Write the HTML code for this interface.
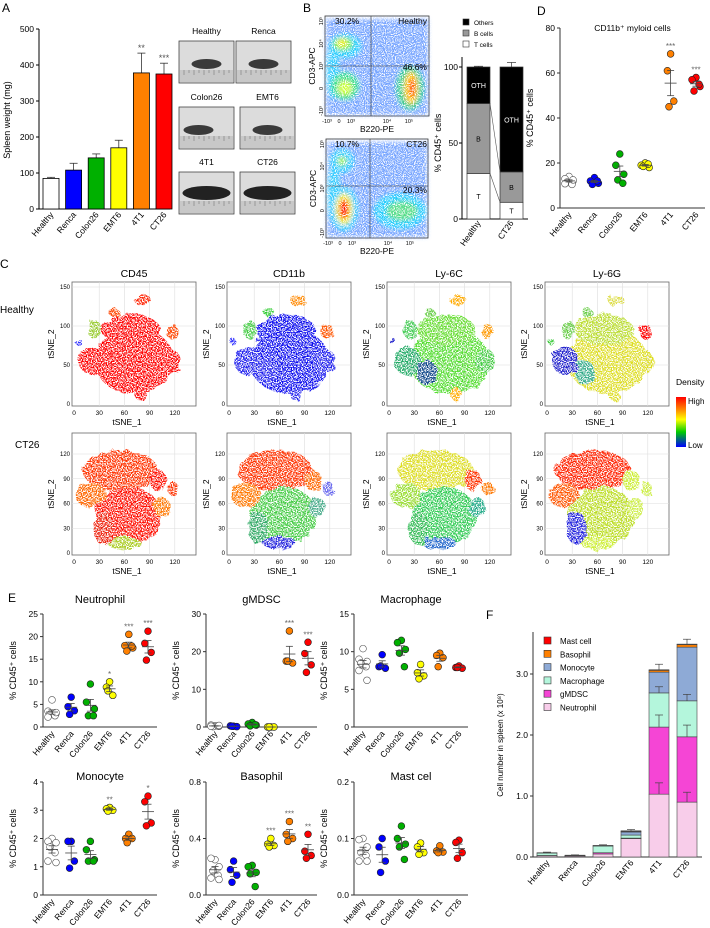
<!DOCTYPE html>
<html><head><meta charset="utf-8"><style>
html,body{margin:0;padding:0;background:#fff}
svg{display:block;font-family:"Liberation Sans",Arial,sans-serif}
</style></head><body>
<svg id="fig" width="710" height="928" viewBox="0 0 710 928" xmlns="http://www.w3.org/2000/svg">
<defs>
<filter id="rough" x="-20%" y="-20%" width="140%" height="140%"><feTurbulence type="fractalNoise" baseFrequency="0.12" numOctaves="2" seed="3" result="t"/><feDisplacementMap in="SourceGraphic" in2="t" scale="7" result="d"/><feTurbulence type="fractalNoise" baseFrequency="0.8" numOctaves="1" seed="7" result="n"/><feColorMatrix in="n" type="matrix" values="0 0 0 0 0  0 0 0 0 0  0 0 0 0 0  7 0 0 0 -2.9" result="m"/><feComposite in="d" in2="m" operator="in"/></filter>
<filter id="soft" x="-10%" y="-10%" width="120%" height="120%"><feGaussianBlur stdDeviation="2" result="b"/><feTurbulence type="fractalNoise" baseFrequency="0.9" numOctaves="1" seed="5" result="n"/><feColorMatrix in="n" type="matrix" values="0 0 0 0 0  0 0 0 0 0  0 0 0 0 0  6 0 0 0 -2.2" result="m"/><feComposite in="b" in2="m" operator="in"/></filter>
<linearGradient id="dens" x1="0" y1="0" x2="0" y2="1"><stop offset="0" stop-color="#f00"/><stop offset="0.25" stop-color="#f80"/><stop offset="0.45" stop-color="#ff0"/><stop offset="0.7" stop-color="#0c0"/><stop offset="1" stop-color="#00f"/></linearGradient>
</defs>
</svg>
<script>
const groups=['Healthy','Renca','Colon26','EMT6','4T1','CT26'];
const groupColors=['#ffffff','#0000ff','#00b000','#ffff00','#ff8000','#ff0000'];
// Panel A
const spleenMean=[85,108,142,170,378,375];
const spleenErr=[3,19,11,21,55,30];
const spleenStars=['','','','','**','***'];
const spleenTicks=[0,100,200,300,400,500];
// Panel B
const bHealthy=[30,46,24];
const bCT26=[11,20,69];
const bErrTop=[100.5,103];
// Panel D
const cd11b=[[14,13,12,11.5,10.5,10.8,12.5],[13.5,12,11,10.5,12],[24,19,15,12.5,11],[20,19,18,18.5,19.5],[68.5,61,47.5,45],[58,57,54,52,55]];
const cd11bStars=['','','','','***','***'];
// Panel E
const neutro=[[6,3.5,3,2.8,2.5,2.2,3.2],[6.6,4.5,3.6,2.8],[9.5,5.5,4,2.5,2.5],[10,8.8,7,8],[20.5,18,17.5,16.8,17.9],[21.2,18.5,16.5,14.8]];
const gmdsc=[[0.3,0.5,0.2,0.1,0.3,0.2,0.4],[0.2,0.3,0.1,0.2],[1.2,0.8,0.5,0.3,0.6],[0,0,0,0],[25.5,17.5,17,17.5],[22.5,19.5,16.5,14.5]];
const macro=[[10.4,9,8.7,8.5,8,7.5,6.2],[9.6,8,7.8,8.1],[11.5,11.2,10.3,9.8,8],[8.3,7.2,6.8,6.4],[9.8,9.5,9.2,8],[8.1,7.9,7.8,7.9]];
const mono=[[2,1.9,1.85,1.7,1.5,1.2,1.15],[1.9,1.9,1.2,0.95],[1.9,1.6,1.25,1.2,1.2],[3.1,3.05,3,2.97],[2.15,2,2,1.85],[3.5,3.3,2.55,2.45]];
const baso=[[0.25,0.26,0.2,0.17,0.14,0.12,0.11],[0.24,0.18,0.14,0.09],[0.21,0.2,0.16,0.15,0.06],[0.4,0.36,0.35,0.34],[0.52,0.43,0.4,0.38],[0.43,0.31,0.28,0.26]];
const mast=[[0.1,0.098,0.085,0.075,0.07,0.06,0.06],[0.1,0.085,0.06,0.04],[0.122,0.1,0.09,0.085,0.063],[0.092,0.085,0.075,0.072],[0.087,0.078,0.076,0.075],[0.097,0.093,0.075,0.065]];
const neutroStars=['','','','*','***','***'];
const gmdscStars=['','','','','***','***'];
const monoStars=['','','','**','','*'];
const basoStars=['','','','***','***','**'];
const noStars=['','','','','',''];
// Panel F (stack order: Neutrophil, gMDSC, Macrophage, Monocyte, Basophil, Mast cell)
const fLayers=['Neutrophil','gMDSC','Macrophage','Monocyte','Basophil','Mast cell'];
const fColors=['#f8cdea','#f545d5','#b4f6dc','#8eaad6','#ff8000','#ff0000'];
const fNeutro=[0.02,0.015,0.05,0.30,1.03,0.90];
const fGmdsc=[0.005,0.005,0.02,0.01,1.10,1.07];
const fMacro=[0.04,0.005,0.11,0.05,0.56,0.59];
const fMono=[0.005,0.005,0.01,0.05,0.34,0.88];
const fBaso=[0,0,0,0.01,0.03,0.04];
const fMast=[0,0,0,0.01,0.01,0.01];
const fErr=[0.01,0.005,0.01,0.02,0.09,0.08];
const fTicks=[0,1,2,3];
const fTickLabels=['0.0','1.0','2.0','3.0'];

const NS='http://www.w3.org/2000/svg';
const svg=document.getElementById('fig');
function mk(tag,attrs,name,parent){
  const el=document.createElementNS(NS,tag);
  for(const k in attrs) el.setAttribute(k,attrs[k]);
  
  
  (parent||svg).appendChild(el);return el;}
function tx(x,y,s,size,name,o){o=o||{};
  const a={x:x,y:y,'font-size':size,fill:o.fill||'#000','text-anchor':o.anchor||'start'};
  if(o.weight)a['font-weight']=o.weight;
  if(o.rot!==undefined)a.transform='rotate('+o.rot+' '+x+' '+y+')';
  const t=mk('text',a,name);t.textContent=s;return t;}
function ln(x1,y1,x2,y2,name,c,w){return mk('line',{x1:x1,y1:y1,x2:x2,y2:y2,stroke:c||'#000','stroke-width':w||1},name);}
function catLabels(xs,y,size,name){groups.forEach((g,i)=>tx(xs[i]+3,y,g,size,name+'-'+g.toLowerCase(),{anchor:'end',rot:-50}));}
function mean(a){return a.reduce((s,v)=>s+v,0)/a.length;}
function sem(a){const m=mean(a);return Math.sqrt(a.reduce((s,v)=>s+(v-m)*(v-m),0)/(a.length-1))/Math.sqrt(a.length);}

// panel letters
[['A',2,12],['B',303,12],['D',537,15],['C',0,268],['E',8,602],['F',486,619]].forEach(p=>tx(p[1],p[2],p[0],12,'panel-label-'+p[0].toLowerCase()));

// ===== Panel A =====
(function(){
  const ax=39,y0=209,ymax=500,h=180;const y=v=>y0-v/ymax*h;
  const xs=groups.map((g,i)=>51+i*22.6);
  ln(ax,y(500),ax,y0,'a-y-axis');ln(ax,y0,170,y0,'a-x-axis');
  spleenTicks.forEach(t=>{ln(ax-3,y(t),ax,y(t),'a-y-tick');tx(ax-5,y(t)+3,String(t),8.5,'a-y-tick-label',{anchor:'end'});});
  tx(10,120,'Spleen weight (mg)',9,'a-y-axis-title',{anchor:'middle',rot:-90});
  spleenMean.forEach((v,i)=>{
    const top=y(v+spleenErr[i]);
    ln(xs[i],top,xs[i],y(v),'a-error-bar',"#333",0.8);ln(xs[i]-4,top,xs[i]+4,top,'a-error-cap','#333',0.8);
    mk('rect',{x:xs[i]-8,y:y(v),width:16,height:y0-y(v),fill:groupColors[i],stroke:'#000','stroke-width':0.8},'a-bar-'+groups[i].toLowerCase());
    if(spleenStars[i])tx(xs[i],top-2,spleenStars[i],9,'a-significance',{anchor:'middle',fill:'#555'});
  });
  catLabels(xs,215,8.5,'a-x-label');
  const cells=[['Healthy',179,41],['Renca',236,41],['Colon26',179,107],['EMT6',240,107],['4T1',179,172],['CT26',240,172]];
  cells.forEach((c,i)=>{
    const w=55,hh=42;
    tx(c[1]+w/2,c[2]-7,c[0],8.5,'photo-title-'+c[0].toLowerCase(),{anchor:'middle'});
    mk('rect',{x:c[1],y:c[2],width:w,height:hh,fill:'#dcdcdc',stroke:'#444','stroke-width':0.8},'spleen-photo-'+c[0].toLowerCase());
    mk('rect',{x:c[1]+1,y:c[2]+hh-13,width:w-2,height:12,fill:'#c8c8c8'},'photo-ruler');
    for(let k=0;k<10;k++)ln(c[1]+5+k*5,c[2]+hh-13,c[1]+5+k*5,c[2]+hh-(k%2?10:8),'ruler-tick','#666',0.5);
    const big=i>=4?1:0;
    mk('ellipse',{cx:c[1]+w/2+(i==2?-8:0),cy:c[2]+hh-19-big*2,rx:big?24:15,ry:big?7:5,fill:big?'#222':'#3a3a3a'},'spleen-image');
  });
})();

// ===== Panel B flow =====
function flow(x0,y0,w,h,vx,hy,blobs,labels,nm){
  mk('rect',{x:x0,y:y0,width:w,height:h,fill:'#fff',stroke:'#333','stroke-width':0.8},nm+'-frame');
  const g=mk('g',{filter:'url(#soft)'},nm+'-density');
  mk('rect',{x:x0+1,y:y0+3,width:w-2,height:h-4,fill:'#3a7dff',opacity:0.7},nm+'-bg',g);
  blobs.forEach(b=>mk('ellipse',{cx:x0+b[0],cy:y0+b[1],rx:b[2],ry:b[3],fill:b[4]},nm+'-population',g));
  ln(vx,y0,vx,y0+h,nm+'-quad-v','#333',0.6);ln(x0,hy,x0+w,hy,nm+'-quad-h','#333',0.6);
  labels.forEach(l=>tx(l[0],l[1],l[2],8.5,nm+'-gate-label',{anchor:l[3]||'start'}));
  const yl=['10⁵','10⁴','10³','0','-10³'];yl.forEach((s,i)=>tx(x0-2,y0+5+i*(h-10)/4,s,5.5,nm+'-y-tick',{anchor:'middle',rot:-90}));
  const xl=[['-10³',2],['0',14],['10³',26],['10⁴',62],['10⁵',84]];xl.forEach(s=>tx(x0+s[1],y0+h+7,s[0],5.5,nm+'-x-tick',{anchor:'middle'}));
  tx(x0-10,y0+h/2,'CD3-APC',8.5,nm+'-y-title',{anchor:'middle',rot:-90});
  tx(x0+w/2,y0+h+16,'B220-PE',8.5,nm+'-x-title',{anchor:'middle'});
}
flow(325,16,104,100,371,66,[[8,55,6,28,'#3cf'],[20,30,16,12,'#2cf'],[18,28,10,7,'#7e4'],[17,27,5,4,'#ee3'],[20,70,14,14,'#3d8'],[20,72,7,7,'#cf3'],[85,72,14,22,'#3c8'],[86,72,7,16,'#fc0'],[87,72,3,10,'#f00']],[[335,24,'30.2%'],[427,24,'Healthy','end'],[427,70,'46.6%','end']],'flow-healthy');
flow(326,139,102,99,370,186,[[8,55,6,30,'#3cf'],[16,22,12,12,'#3cf'],[16,22,5,5,'#9e6'],[18,70,14,22,'#2cf'],[18,70,9,16,'#ee3'],[18,70,5,10,'#f00'],[74,72,26,18,'#2cf'],[76,72,16,10,'#5d8']],[[335,147,'10.7%'],[427,147,'CT26','end'],[427,193,'20.3%','end']],'flow-ct26');

// ===== Panel B stacked =====
(function(){
  const ax=462,y0=219,h=152;const y=v=>y0-v/100*h;
  ln(ax,y(100)-10,ax,y0,'b-y-axis');ln(ax,y0,528,y0,'b-x-axis');
  [0,50,100].forEach(t=>{ln(ax-3,y(t),ax,y(t),'b-y-tick');tx(ax-4,y(t)+3,String(t),8.5,'b-y-tick-label',{anchor:'end'});});
  tx(441,143,'% CD45⁺ cells',9,'b-y-axis-title',{anchor:'middle',rot:-90});
  const cols=['#fff','#999','#000'],lab=['T','B','OTH'],txc=['#000','#000','#fff'];
  [[bHealthy,467,'healthy'],[bCT26,500,'ct26']].forEach((b,bi)=>{
    let cum=0;b[0].forEach((v,k)=>{
      mk('rect',{x:b[1],y:y(cum+v),width:23,height:y(cum)-y(cum+v),fill:cols[k],stroke:'#333','stroke-width':0.7},'b-bar-'+b[2]+'-'+lab[k].toLowerCase());
      tx(b[1]+11.5,(y(cum)+y(cum+v))/2+3,lab[k],7,'b-seg-label',{anchor:'middle',fill:txc[k]});
      cum+=v;});
    ln(b[1]+11.5,y(bErrTop[bi]),b[1]+11.5,y(100),'b-error','#333',0.7);ln(b[1]+7,y(bErrTop[bi]),b[1]+16,y(bErrTop[bi]),'b-error-cap','#333',0.7);
    tx(b[1]+14,223,['Healthy','CT26'][bi],8.5,'b-x-label',{anchor:'end',rot:-55});
  });
  ln(490,y(bHealthy[0]+bHealthy[1]),500,y(bCT26[0]+bCT26[1]),'b-connector','#555',0.6);
  ln(490,y(bHealthy[0]),500,y(bCT26[0]),'b-connector','#555',0.6);
  [['Others','#000'],['B cells','#999'],['T cells','#fff']].forEach((l,i)=>{mk('rect',{x:463,y:19+i*11,width:6,height:6,fill:l[1],stroke:'#333','stroke-width':0.6},'b-legend-swatch');tx(474,25+i*11,l[0],6.5,'b-legend-label');});
})();

// ===== Dot plot helper =====
function dotPlot(c){
  const y=v=>c.y0-v/c.max*(c.y0-c.top);
  const xs=groups.map((g,i)=>c.ax+9+i*(c.end-c.ax-18)/5);
  ln(c.ax,c.top,c.ax,c.y0,c.nm+'-y-axis','#333');ln(c.ax,c.y0,c.end,c.y0,c.nm+'-x-axis','#333');
  c.ticks.forEach((t,i)=>{ln(c.ax-3,y(t),c.ax,y(t),c.nm+'-y-tick','#333');tx(c.ax-5,y(t)+3,c.tl[i],8.5,c.nm+'-y-tick-label',{anchor:'end'});});
  tx(c.ax-27,(c.top+c.y0)/2,'% CD45⁺ cells',9,c.nm+'-y-axis-title',{anchor:'middle',rot:-90});
  if(c.title)tx((c.ax+c.end)/2,c.ty,c.title,c.tsize||11,c.nm+'-title',{anchor:'middle'});
  const off=[0,-4,4,-2,3,-4,4];
  c.data.forEach((arr,i)=>{
    const m=mean(arr),s=sem(arr);
    arr.forEach((v,k)=>mk('circle',{cx:xs[i]+off[k%7]*(arr.length>4?1:0.8),cy:y(v),r:3.4,fill:groupColors[i],stroke:i==0?'#555':'#222','stroke-width':0.6},c.nm+'-point-'+groups[i].toLowerCase()));
    ln(xs[i]-6,y(m),xs[i]+6,y(m),c.nm+'-mean','#444',0.8);
    ln(xs[i],y(m+s),xs[i],y(m-s),c.nm+'-sem','#444',0.8);
    ln(xs[i]-3.5,y(m+s),xs[i]+3.5,y(m+s),c.nm+'-sem-cap','#444',0.8);ln(xs[i]-3.5,y(m-s),xs[i]+3.5,y(m-s),c.nm+'-sem-cap','#444',0.8);
    if(c.stars[i])tx(xs[i],y(Math.max(...arr))-5,c.stars[i],8,c.nm+'-significance',{anchor:'middle',fill:'#666'});
  });
  catLabels(xs,c.y0+7,8.5,c.nm+'-x-label');
}
dotPlot({nm:'d',ax:560,end:705,top:28,y0:208,max:80,ticks:[0,20,40,60,80],tl:['0','20','40','60','80'],data:cd11b,stars:cd11bStars,title:'CD11b⁺ myloid cells',ty:31,tsize:8.5});
dotPlot({nm:'e-neutrophil',ax:43,end:157,top:614,y0:727,max:25,ticks:[0,5,10,15,20,25],tl:['0','5','10','15','20','25'],data:neutro,stars:neutroStars,title:'Neutrophil',ty:603});
dotPlot({nm:'e-gmdsc',ax:206,end:317,top:614,y0:727,max:30,ticks:[0,10,20,30],tl:['0','10','20','30'],data:gmdsc,stars:gmdscStars,title:'gMDSC',ty:603});
dotPlot({nm:'e-macrophage',ax:354,end:468,top:614,y0:727,max:15,ticks:[0,5,10,15],tl:['0','5','10','15'],data:macro,stars:noStars,title:'Macrophage',ty:603});
dotPlot({nm:'e-monocyte',ax:43,end:157,top:782,y0:895,max:4,ticks:[0,1,2,3,4],tl:['0','1','2','3','4'],data:mono,stars:monoStars,title:'Monocyte',ty:780});
dotPlot({nm:'e-basophil',ax:206,end:317,top:782,y0:895,max:0.8,ticks:[0,0.4,0.8],tl:['0.0','0.4','0.8'],data:baso,stars:basoStars,title:'Basophil',ty:780});
dotPlot({nm:'e-mast',ax:354,end:468,top:782,y0:895,max:0.2,ticks:[0,0.1,0.2],tl:['0.0','0.1','0.2'],data:mast,stars:noStars,title:'Mast cel',ty:780});

// ===== Panel F =====
(function(){
  const ax=533,y0=857,unit=61;const y=v=>y0-v*unit;
  ln(ax,632,ax,y0,'f-y-axis','#333');ln(ax,y0,702,y0,'f-x-axis','#333');
  fTicks.forEach((t,i)=>{ln(ax-3,y(t),ax,y(t),'f-y-tick','#333');tx(ax-5,y(t)+3,fTickLabels[i],8.5,'f-y-tick-label',{anchor:'end'});});
  tx(503,745,'Cell number in spleen (x 10⁸)',8,'f-y-axis-title',{anchor:'middle',rot:-90});
  const layers=[fNeutro,fGmdsc,fMacro,fMono,fBaso,fMast];
  const xs=groups.map((g,i)=>547+i*28);
  groups.forEach((g,i)=>{
    let cum=0;
    layers.forEach((L,k)=>{const v=L[i];if(v<=0)return;
      mk('rect',{x:xs[i]-10,y:y(cum+v),width:20,height:v*unit,fill:fColors[k],stroke:'#444','stroke-width':0.6},'f-bar-'+g.toLowerCase()+'-'+fLayers[k].toLowerCase().replace(' ','-'));
      cum+=v;});
    const et=y(cum+fErr[i]);ln(xs[i],et,xs[i],y(cum),'f-error','#444',0.7);ln(xs[i]-4,et,xs[i]+4,et,'f-error-cap','#444',0.7);
    if(i>=4){let c2=0;[0,1,2].forEach(k=>{c2+=layers[k][i];const e=y(c2+layers[k][i]*0.18);ln(xs[i],e,xs[i],y(c2),'f-layer-error','#444',0.7);ln(xs[i]-4,e,xs[i]+4,e,'f-layer-error-cap','#444',0.7);});}
  });
  catLabels(xs,863,8.5,'f-x-label');
  fLayers.slice().reverse().forEach((l,i)=>{mk('rect',{x:544,y:637+i*13.3,width:7,height:7,fill:fColors[5-i],stroke:'#333','stroke-width':0.6},'f-legend-swatch');tx(560,644+i*13.3,l,8,'f-legend-label');});
})();

// ===== Panel C tSNE =====
const hBlobs=[[72,55,48,42],[68,95,35,20],[82,133,10,7],[48,117,6,6],[25,95,8,12],[117,93,7,10],[5,80,4,4],[115,55,12,15],[80,12,7,8],[22,55,16,18],[45,40,12,16]];
const cBlobs=[[55,100,45,25],[65,45,40,35],[20,70,18,15],[100,88,10,13],[118,78,7,8],[60,12,20,8],[105,55,10,12],[35,30,12,20]];
const hCols=[
 ['#f00','#f00','#f20','#f40','#9c3','#f40','#33f','#f00','#f00','#f00','#f00'],
 ['#11e','#11e','#f80','#3c3','#4c4','#f50','#33f','#22e','#22e','#22e','#22e'],
 ['#5d3','#6d3','#fa0','#6c4','#4c5','#f90','#22c','#4c4','#fa0','#2a6','#148'],
 ['#dd2','#bd3','#dd4','#6c4','#6c4','#f00','#4c4','#dd2','#dd2','#22c','#3a8']];
const cCols=[
 ['#f30','#f10','#f60','#f10','#f30','#ac2','#f70','#e21'],
 ['#f30','#4c4','#f70','#f60','#66e','#22d','#4a8','#3a6'],
 ['#dd2','#3c5','#9d3','#f30','#f70','#26c','#2a8','#3b5'],
 ['#f20','#bd2','#f50','#ce3','#ce4','#ce3','#ce4','#22d']];
const markers=['CD45','CD11b','Ly-6C','Ly-6G'];
const boxX=[72,227,387,545];
function tsne(x0,top,bot,yunit,yt,blobs,cols,nm){
  mk('rect',{x:x0,y:top,width:124,height:bot-top,fill:'#fff',stroke:'#666','stroke-width':0.8},nm+'-frame');
  const X=v=>x0+2+v*0.84,Y=v=>bot-2-v*yunit;
  [30,60,90,120].forEach(t=>ln(X(t),top,X(t),bot,nm+'-grid-x','#ddd',0.6));
  yt.forEach(t=>{if(t>0)ln(x0,Y(t),x0+124,Y(t),nm+'-grid-y','#ddd',0.6);tx(x0-2,Y(t)+2,String(t),6,nm+'-y-tick-label',{anchor:'end'});});
  [0,30,60,90,120].forEach(t=>tx(X(t),bot+9,String(t),6.5,nm+'-x-tick-label',{anchor:'middle'}));
  tx(x0+55,bot+19,'tSNE_1',8.5,nm+'-x-title',{anchor:'middle'});
  tx(x0-18,(top+bot)/2,'tSNE_2',8.5,nm+'-y-title',{anchor:'middle',rot:-90});
  const g=mk('g',{filter:'url(#rough)'},nm+'-cells');
  blobs.forEach((b,i)=>mk('ellipse',{cx:X(b[0]),cy:Y(b[1]),rx:b[2]*0.84,ry:b[3]*yunit,fill:cols[i]},nm+'-cluster',g));
}
markers.forEach((m,j)=>{
  tx(boxX[j]+62,277,m,10.5,'c-title-'+m.toLowerCase(),{anchor:'middle'});
  tsne(boxX[j],282,406,0.78,[0,50,100,150],hBlobs,hCols[j],'c-healthy-'+m.toLowerCase());
  tsne(boxX[j],433,555,0.825,[0,30,60,90,120],cBlobs,cCols[j],'c-ct26-'+m.toLowerCase());
});
tx(0,313,'Healthy',10,'c-row-label-healthy');
tx(15,448,'CT26',10,'c-row-label-ct26');
tx(676,385,'Density',8.5,'c-density-title');
mk('rect',{x:676,y:397,width:10,height:50,fill:'url(#dens)'},'c-density-colorbar');
tx(688,404,'High',8,'c-density-high');
tx(688,448,'Low',8,'c-density-low');
</script>
</body></html>
